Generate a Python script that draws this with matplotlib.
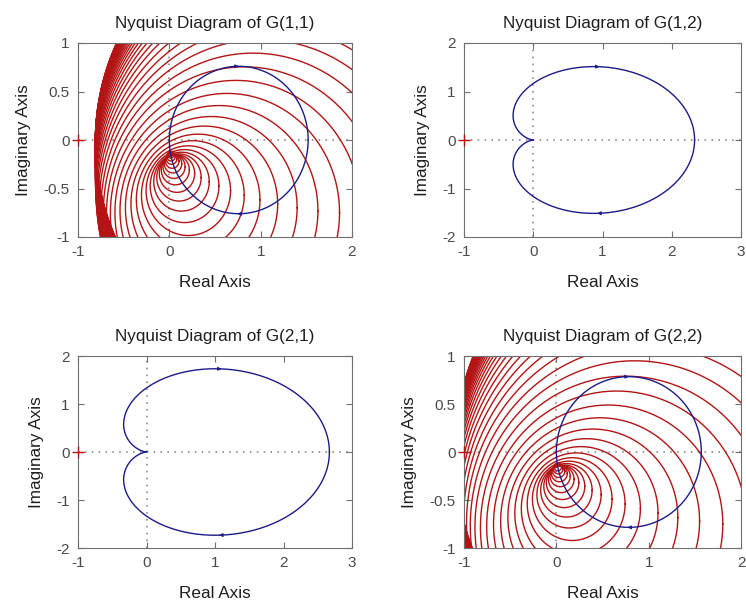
import numpy as np
import matplotlib.pyplot as plt

plt.rcParams['font.family'] = ['Liberation Sans', 'DejaVu Sans']
plt.rcParams['axes.unicode_minus'] = False

# 2x2 plant, each element K / (T s + 1)^n
gains = [[1.52, 2.33], [2.67, 1.57]]
time_consts = [[1.0, 0.8], [0.8, 1.0]]
orders = [[1, 2], [2, 1]]

titles = ['Nyquist Diagram of G(1,1)', 'Nyquist Diagram of G(1,2)',
          'Nyquist Diagram of G(2,1)', 'Nyquist Diagram of G(2,2)']
x_limits = [(-1, 2), (-1, 3), (-1, 3), (-1, 2)]
y_limits = [(-1, 1), (-2, 2), (-2, 2), (-1, 1)]
x_ticks = [[-1, 0, 1, 2], [-1, 0, 1, 2, 3], [-1, 0, 1, 2, 3], [-1, 0, 1, 2]]
y_ticks = [[-1, -0.5, 0, 0.5, 1], [-2, -1, 0, 1, 2], [-2, -1, 0, 1, 2], [-1, -0.5, 0, 0.5, 1]]
y_ticklabels = [['-1', '-0.5', '0', '0.5', '1'], ['-2', '-1', '0', '1', '2'],
                ['-2', '-1', '0', '1', '2'], ['-1', '-0.5', '0', '0.5', '1']]

# frequencies (rad/s) where Gershgorin circles are drawn, log10 range
band_w_range = (-2, 1.0)
band_w_count = 56
# arrow positions as normalised frequency w*T
arrow_wt = [1.0, 0.55, 0.55, 1.0]

# axes boxes in pixels: left, top, right, bottom
boxes = [(78, 43, 352, 237), (464, 43, 741, 237),
         (78, 356, 352, 548), (464, 356, 741, 548)]

BLUE = '#1c1c88'
RED = '#b41414'
TXT = '#1e1e1e'
W, H = 746, 603


def freq_resp(i, j, w):
    return gains[i][j] / (1 + 1j * w * time_consts[i][j]) ** orders[i][j]


fig = plt.figure(figsize=(W / 100, H / 100), dpi=100)
w = np.concatenate([[0.0], np.logspace(-3, 3, 3000)])
theta = np.linspace(0, 2 * np.pi, 240)
band_w = np.logspace(band_w_range[0], band_w_range[1], band_w_count)

for k in range(4):
    i, j = divmod(k, 2)
    l, t, r, b = boxes[k]
    ax = fig.add_axes([l / W, 1 - b / H, (r - l) / W, (b - t) / H])

    # zero lines
    ax.axhline(0, color='#7a7a7a', ls=(0, (1, 3.5)), lw=1.1, zorder=1)
    ax.axvline(0, color='#7a7a7a', ls=(0, (1, 3.5)), lw=1.1, zorder=1)

    if i == j:
        # Gershgorin band: circles on G(i,i) with radius |G(i,j)|
        other = 1 - i
        for wk in band_w:
            c = freq_resp(i, i, wk)
            rad = abs(freq_resp(i, other, wk))
            z = c + rad * np.exp(1j * theta)
            ax.plot(z.real, z.imag, color=RED, lw=1.0, zorder=2)

    g = freq_resp(i, j, w)
    ax.plot(g.real, g.imag, color=BLUE, lw=1.0, zorder=3)
    ax.plot(g.real, -g.imag, color=BLUE, lw=1.0, zorder=3)

    # direction arrows on both branches
    wa = arrow_wt[k] / time_consts[i][j]
    for sgn in (1, -1):
        p0 = freq_resp(i, j, wa)
        p1 = freq_resp(i, j, wa * 1.02)
        if sgn < 0:
            p0, p1 = np.conj(p1), np.conj(p0)
        ax.annotate('', xy=(p1.real, p1.imag), xytext=(p0.real, p0.imag),
                    arrowprops=dict(arrowstyle='-|>', color=BLUE, lw=0.8,
                                    mutation_scale=5), zorder=4)

    # critical point
    ax.plot(-1, 0, '+', color=RED, ms=9, mew=1.0, clip_on=False, zorder=5)

    ax.set_xlim(*x_limits[k])
    ax.set_ylim(*y_limits[k])
    ax.set_xticks(x_ticks[k])
    ax.set_yticks(y_ticks[k])
    ax.set_yticklabels(y_ticklabels[k])
    ax.tick_params(direction='in', top=True, right=True, length=4,
                   labelsize=11, labelcolor='#4a4a4a', color='#707070', pad=6)
    for s in ax.spines.values():
        s.set_color('#707070')
    ax.set_title(titles[k], fontsize=12.3, color=TXT, pad=11)
    ax.set_xlabel('Real Axis', fontsize=12.3, color=TXT, labelpad=11)
    ax.set_ylabel('Imaginary Axis', fontsize=12.3, color=TXT, labelpad=9)

fig.savefig('out.png', dpi=100)
